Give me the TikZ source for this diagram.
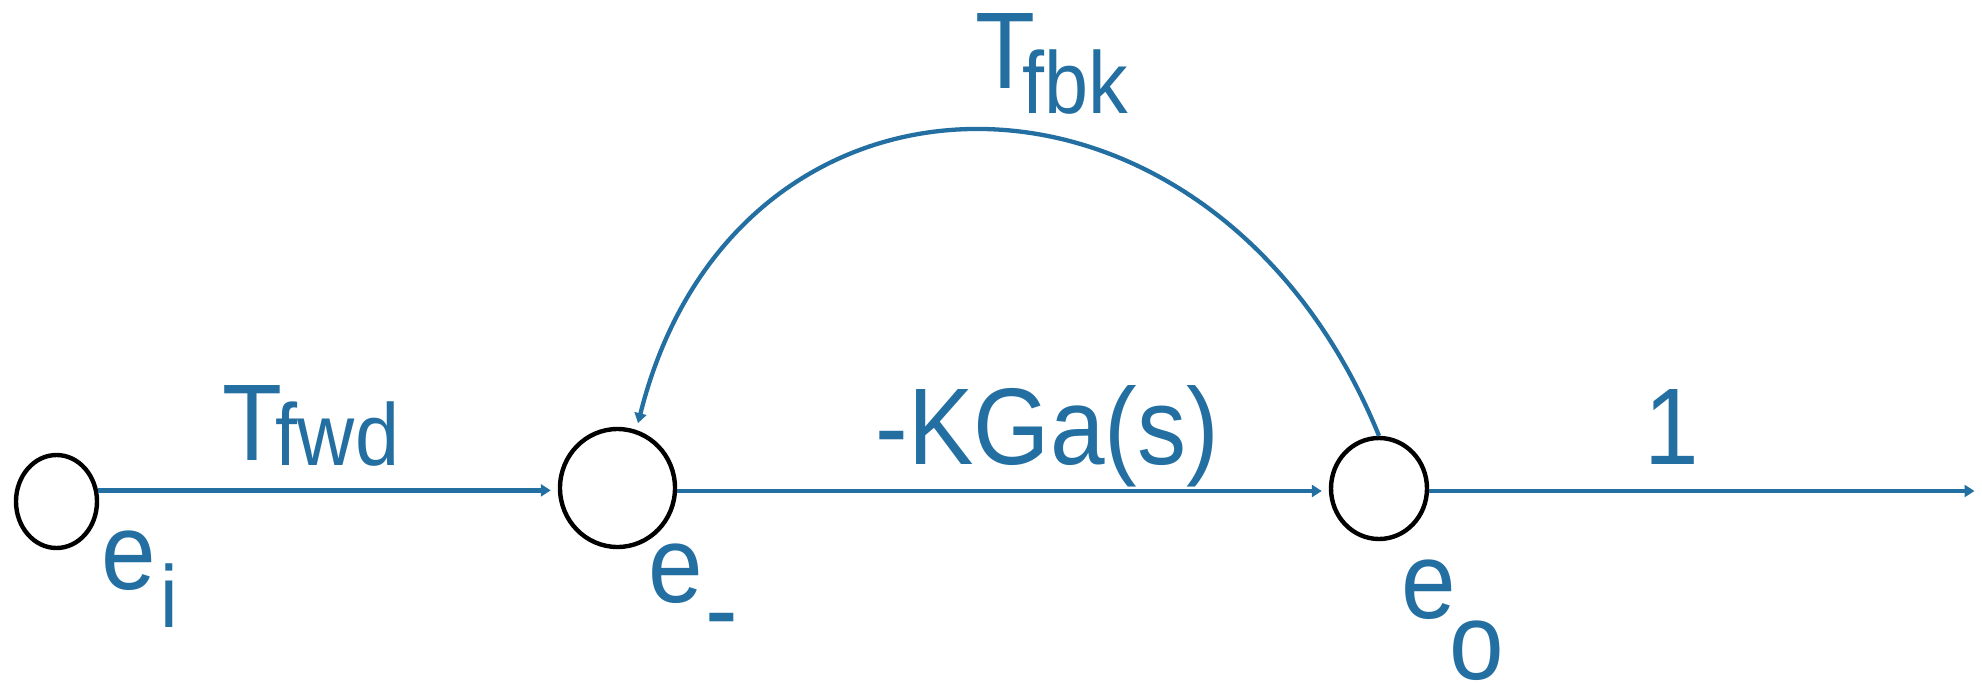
\documentclass[tikz,border=0pt]{standalone}
\usepackage{fontspec}
\usetikzlibrary{shapes.geometric,arrows.meta}
\newfontfamily\lab{Liberation Sans}[FakeStretch=0.9]
\newcommand\mainsz{\fontsize{109}{120}\selectfont}
\newcommand\subsz{\fontsize{88}{96}\selectfont}
\definecolor{sigblue}{RGB}{36,111,161}
\tikzset{
  sgnode/.style={ellipse,draw=black,line width=4.4pt,inner sep=0pt},
  arr/.style={draw=sigblue,line width=4.3pt,-{Triangle[length=10pt,width=12pt,sep=7pt]}},
  lbl/.style={anchor=base west,inner sep=0pt,outer sep=0pt,text=sigblue,font=\lab\mainsz}
}
\begin{document}
\begin{tikzpicture}[x=1pt,y=-1pt]
\useasboundingbox (0,0) rectangle (1982,686);
\node[sgnode,minimum width=81pt,minimum height=93pt] (ei) at (56.5,501.5) {};
\node[sgnode,minimum width=115pt,minimum height=118pt] (em) at (617.5,488) {};
\node[sgnode,minimum width=96pt,minimum height=101pt] (eo) at (1379,488.5) {};
\coordinate (out) at (1981.5,491);
\draw[arr] (ei.15) -- (ei.15 -| em.west);
\draw[arr] (em.east |- 0,491) -- (eo.west |- 0,491);
\draw[arr] (eo.east |- 0,491) -- (out);
\draw[arr] (eo.north) .. controls +(-165,-405) and +(100,-400) .. (em.72);
\node[lbl] (tfwd) at (222.8,460) {T\kern-6.8pt\lower5pt\hbox{\subsz fwd}};
\node[lbl] (tfbk) at (975.8,88) {T\kern-12.8pt\lower25pt\hbox{\subsz fbk}};
\node[lbl] (kga) at (875.7,464) {-KGa(s)};
\node[lbl] (one) at (1644.3,464) {1};
\node[lbl] (lei) at (101.2,589) {e\kern5.1pt\lower38pt\hbox{\subsz i}};
\node[lbl] (lem) at (648.2,602) {e\kern3pt\lower44pt\hbox{-}};
\node[lbl] (leo) at (1401.2,618) {e\kern-6.5pt\lower61pt\hbox{o}};
\end{tikzpicture}
\end{document}
